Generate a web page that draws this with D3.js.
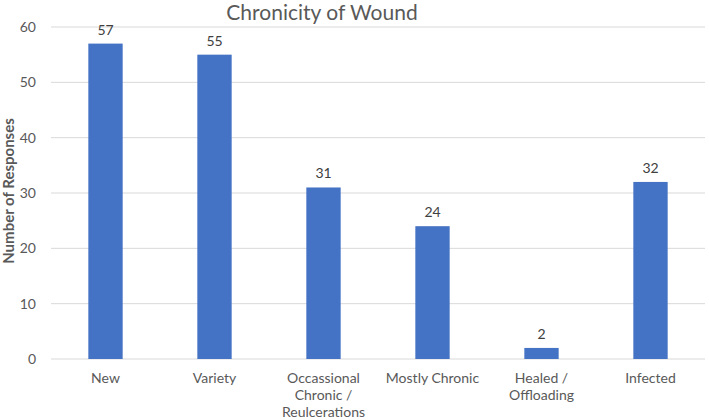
<!DOCTYPE html>
<html><head><meta charset="utf-8">
<script src="https://cdn.jsdelivr.net/npm/d3@7"></script>
<style>body{margin:0;background:#fff;}svg{display:block;font-family:Lato,"Open Sans",sans-serif;}</style>
</head><body>
<svg id="c" width="709" height="420"></svg>
<script>
const categories = [["New"],["Variety"],["Occassional","Chronic /","Reulcerations"],["Mostly Chronic"],["Healed /","Offloading"],["Infected"]];
const values = [57,55,31,24,2,32];
const yTicks = [0,10,20,30,40,50,60];
const title = "Chronicity of Wound";
const yTitle = "Number of Responses";

const svg = d3.select("#c");
const m = {l:51, r:4, t:27, b:61};
const W = 709, H = 420;
const x = d3.scaleBand().domain(d3.range(values.length)).range([m.l, W-m.r]).paddingInner(0.685).paddingOuter(0.3425);
const y = d3.scaleLinear().domain([0,60]).range([H-m.b, m.t]);

svg.append("g").selectAll("line").data(yTicks).join("line")
  .attr("x1", m.l).attr("x2", W-m.r)
  .attr("y1", d=>y(d)).attr("y2", d=>y(d))
  .attr("stroke", "#d9d9d9").attr("stroke-width", 1);

const ya = svg.append("g").attr("transform", `translate(${m.l},0)`)
  .call(d3.axisLeft(y).tickValues(yTicks).tickSize(0).tickPadding(15));
ya.select(".domain").remove();
ya.selectAll("text").attr("fill","#595959").style("font-size","14px").style("font-family","Lato,'Open Sans',sans-serif");

svg.append("g").selectAll("rect").data(values).join("rect")
  .attr("x", (d,i)=>x(i)).attr("width", x.bandwidth())
  .attr("y", d=>y(d)).attr("height", d=>y(0)-y(d))
  .attr("fill", "#4472C4");

svg.append("g").selectAll("text").data(values).join("text")
  .attr("x", (d,i)=>x(i)+x.bandwidth()/2).attr("y", d=>y(d)-9)
  .attr("text-anchor","middle").attr("fill","#404040").style("font-size","14px")
  .text(d=>d);

const xl = svg.append("g").selectAll("text").data(categories).join("text")
  .attr("x", (d,i)=>x(i)+x.bandwidth()/2).attr("y", y(0)+24)
  .attr("text-anchor","middle").attr("fill","#595959").style("font-size","14px");
xl.each(function(d){
  const t = d3.select(this);
  d.forEach((s,k)=>t.append("tspan").attr("x", t.attr("x")).attr("dy", k===0?0:17).text(s));
});

svg.append("text").attr("x", 322).attr("y", 20).attr("text-anchor","middle")
  .attr("fill","#595959").style("font-size","21px").text(title);

svg.append("text").attr("transform", `translate(14,${(y(0)+y(60))/2 - 2}) rotate(-90)`)
  .attr("text-anchor","middle").attr("fill","#595959").style("font-size","15px").style("font-weight","bold")
  .text(yTitle);
</script>
</body></html>
